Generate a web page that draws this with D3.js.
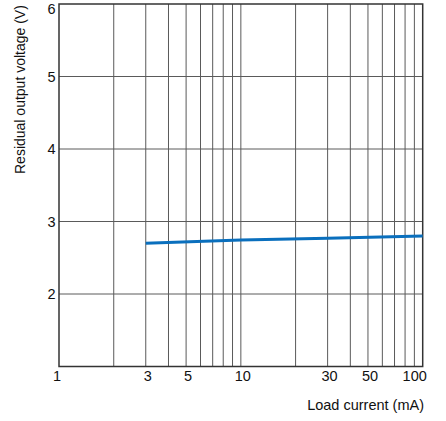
<!DOCTYPE html>
<html><head><meta charset="utf-8">
<script src="https://cdn.jsdelivr.net/npm/d3@7"></script>
<style>body{margin:0;background:#fff}svg{display:block}text{font-family:"Liberation Sans",Arial,sans-serif;fill:#111}</style>
</head><body>
<svg id="c" width="446" height="421"></svg>
<script>
const loadCurrent = [3, 10, 30, 100];
const residualVoltage = [2.70, 2.745, 2.77, 2.80];
const xTickLabels = [1, 3, 5, 10, 30, 50, 100];
const yTickLabels = [2, 3, 4, 5, 6];
const xGrid = [2,3,4,5,6,7,8,9,10,20,30,40,50,60,70,80,90];
const yGrid = [2,3,4,5];
const xTitle = "Load current (mA)";
const yTitle = "Residual output voltage (V)";

const svg = d3.select("#c");
const L = 59, R = 422.7, T = 4, B = 366.5;
const x = d3.scaleLog().domain([1, 100]).range([L, R]);
const y = d3.scaleLinear().domain([1, 6]).range([B, T]);

svg.append("g").selectAll("line").data(xGrid).join("line")
  .attr("x1", d => x(d)).attr("x2", d => x(d)).attr("y1", T).attr("y2", B)
  .attr("stroke", "#5a5a5a").attr("stroke-width", 1);
svg.append("g").selectAll("line").data(yGrid).join("line")
  .attr("x1", L).attr("x2", R).attr("y1", d => y(d)).attr("y2", d => y(d))
  .attr("stroke", "#5a5a5a").attr("stroke-width", 1);

svg.append("rect").attr("x", L).attr("y", T).attr("width", R - L).attr("height", B - T)
  .attr("fill", "none").attr("stroke", "#333").attr("stroke-width", 1.5);

const pts = loadCurrent.map((c, i) => [c, residualVoltage[i]]);
svg.append("path").datum(pts)
  .attr("d", d3.line().x(d => x(d[0])).y(d => y(d[1])))
  .attr("fill", "none").attr("stroke", "#0a6fbd").attr("stroke-width", 3);

svg.append("g").selectAll("text").data(xTickLabels).join("text")
  .attr("x", d => x(d) + (d === 100 ? -8 : d === 1 ? -2 : 2)).attr("y", 381)
  .attr("text-anchor", "middle").attr("font-size", 14.5).text(d => d);

svg.append("g").selectAll("text").data(yTickLabels).join("text")
  .attr("x", 55.5).attr("y", d => Math.max(y(d), 9)).attr("dy", "0.35em")
  .attr("text-anchor", "end").attr("font-size", 14.5).text(d => d);

svg.append("text").attr("x", 424).attr("y", 410).attr("text-anchor", "end")
  .attr("font-size", 14.5).text(xTitle);

svg.append("text").attr("transform", "translate(24.5,174) rotate(-90)")
  .attr("text-anchor", "start").attr("font-size", 14).text(yTitle);
</script>
</body></html>
